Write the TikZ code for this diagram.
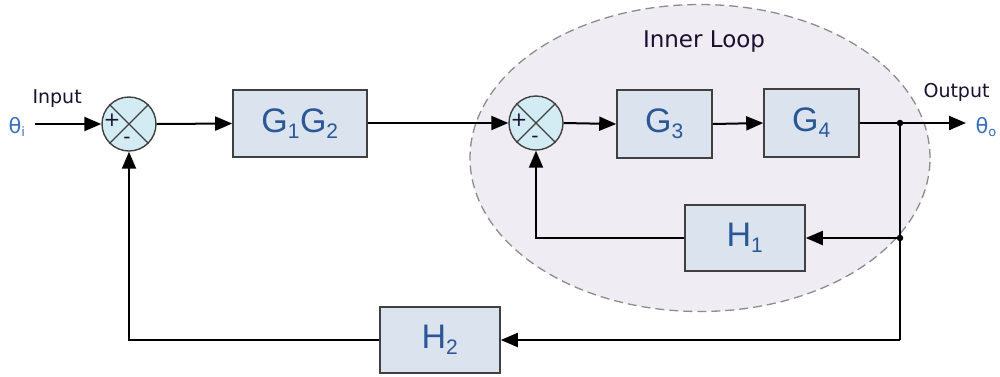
\documentclass[tikz,border=0pt]{standalone}
\usepackage{fontspec}
\setmainfont{Liberation Sans}
\newfontfamily\verd{DejaVu Sans}
\usetikzlibrary{arrows.meta,shapes.geometric}
\definecolor{boxfill}{HTML}{DAE3EE}
\definecolor{boxline}{HTML}{404040}
\definecolor{sumfill}{HTML}{D3EBF2}
\definecolor{txtblue}{HTML}{2B5797}
\definecolor{thblue}{HTML}{3A70C0}
\definecolor{loopfill}{HTML}{EFECF3}
\definecolor{loopline}{HTML}{8C8C8C}
\definecolor{lbl}{HTML}{1A1030}
\newcommand{\subs}[1]{\textsubscript{\fontsize{21}{21}\selectfont #1}}
\begin{document}
\begin{tikzpicture}[x=1pt,y=-1pt,
  blk/.style={draw=boxline,line width=1.6pt,fill=boxfill,text=txtblue,font=\fontsize{34}{36}\selectfont,inner sep=0pt},
  sumnode/.style={circle,draw=boxline,line width=1.4pt,fill=sumfill,minimum size=54pt,inner sep=0pt},
  wire/.style={line width=2pt,black},
  arr/.style={wire,-{Triangle[length=17pt,width=14pt]}},
  dotnode/.style={circle,fill=black,inner sep=0pt,minimum size=6.5pt},
  lab/.style={font=\verd\fontsize{19}{21}\selectfont,text=lbl},
  sign/.style={font=\verd\fontsize{20}{20}\selectfont,text=lbl,inner sep=0pt},
  theta/.style={font=\verd\fontsize{21}{23}\selectfont,text=thblue}]
\useasboundingbox (0,0) rectangle (1000,376);
% inner loop ellipse
\node[ellipse,draw=loopline,fill=loopfill,dash pattern=on 9pt off 5pt,line width=1.3pt,minimum width=460pt,minimum height=307pt,inner sep=0pt] (loop) at (700,158) {};
\node[lab,font=\verd\fontsize{23}{25}\selectfont] (looplbl) at (704,42) {Inner Loop};
% blocks
\node[sumnode] (s1) at (129,124) {};
\node[sumnode] (s2) at (536,123) {};
\foreach \s in {s1,s2}{
  \draw[boxline,line width=1.2pt] (\s.north west) -- (\s.south east);
  \draw[boxline,line width=1.2pt] (\s.north east) -- (\s.south west);
}
\node[sign] (p1) at (112,120) {+};
\node[sign] (m1) at (127,140) {-};
\node[sign] (p2) at (519,120) {+};
\node[sign] (m2) at (535,139) {-};
\node[blk,minimum width=134pt,minimum height=67pt] (g12) at (300,123.5) {G\subs{1}G\subs{2}};
\node[blk,minimum width=95pt,minimum height=68pt] (g3) at (664.5,124) {G\subs{3}};
\node[blk,minimum width=95pt,minimum height=68pt] (g4) at (811.5,123) {G\subs{4}};
\node[blk,minimum width=120pt,minimum height=66pt] (h1) at (745,238) {H\subs{1}};
\node[blk,minimum width=120pt,minimum height=66pt] (h2) at (440,340) {H\subs{2}};
% labels
\node[lab,anchor=west] (inlbl) at (29,99) {Input};
\node[theta] (thi) at (17,127) {θ\textsubscript{\fontsize{13}{13}\selectfont i}};
\node[lab,anchor=west] (outlbl) at (920,92) {Output};
\node[theta,anchor=west] (tho) at (972,127) {θ\textsubscript{\fontsize{13}{13}\selectfont o}};
% coordinates
\coordinate (j1) at (900,123);
\coordinate (j2) at (900,238);
\coordinate (inst) at (35,124);
\coordinate (outend) at (966,123);
\coordinate (c3) at (900,340);
\node[dotnode] (d1) at (j1) {};
\node[dotnode] (d2) at (j2) {};
% wires
\draw[arr] (inst) -- (s1.west);
\draw[arr] (s1.east) -- (g12.west);
\draw[arr] (g12.east |- s2.west) -- (s2.west);
\draw[arr] (s2.east) -- (g3.west);
\draw[arr] (g3.east) -- (g4.east -| g4.west);
\draw[arr] (g4.east) -- (outend);
\draw[arr] (d2.center) -- (h1.east);
\draw[wire] (d1.center) -- (c3);
\draw[arr] (c3) -- (h2.east);
\draw[arr] (h1.west) -| (s2.south);
\draw[arr] (h2.west) -| (s1.south);
\end{tikzpicture}
\end{document}
